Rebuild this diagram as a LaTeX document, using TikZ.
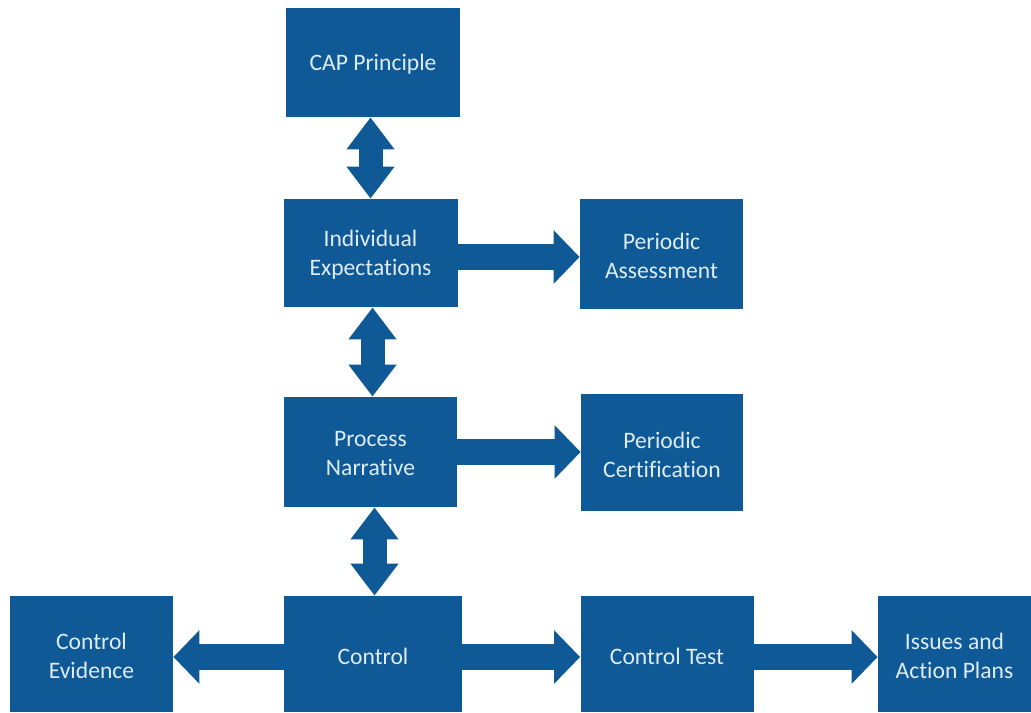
\documentclass[tikz,border=0pt]{standalone}
\usepackage{fontspec}
\setmainfont[Ligatures={NoCommon,NoContextual}]{Carlito}
\usetikzlibrary{arrows.meta}
\definecolor{boxblue}{RGB}{14,89,150}
\definecolor{boxtext}{RGB}{222,236,248}
\begin{document}
\begin{tikzpicture}[x=0.5pt,y=-0.5pt,
  boxtxt/.style={text=boxtext, align=center, inner sep=0pt, yshift=-1pt,
              font=\fontsize{11.8}{14.5}\selectfont},
  box/.style={fill=boxblue, inner sep=0pt, label={[boxtxt]center:{#1}}},
  harrow/.style={draw=boxblue, line width=13pt, -{Triangle[width=26pt,length=13pt]}},
  varrow/.style={draw=boxblue, line width=12pt,
                 {Triangle[width=23pt,length=16pt]}-{Triangle[width=23pt,length=16pt]}}]
\fill[white] (0,0) rectangle (1031,712);
\useasboundingbox (0,0) rectangle (1031,712);
\node[box={CAP Principle}, minimum width=87pt, minimum height=54.5pt] (cap) at (373,62.5) {};
\node[box={Individual\\Expectations}, minimum width=87pt, minimum height=54pt] (ind) at (370.5,253) {};
\node[box={Periodic\\Assessment}, minimum width=81.5pt, minimum height=55pt] (pa) at (661.5,254) {};
\node[box={Process\\Narrative}, minimum width=86.5pt, minimum height=55pt] (pn) at (370.5,452) {};
\node[box={Periodic\\Certification}, minimum width=81pt, minimum height=58.5pt] (pc) at (662,452.5) {};
\node[box={Control}, minimum width=89pt, minimum height=58pt] (ctl) at (373,654) {};
\node[box={Control\\Evidence}, minimum width=81.5pt, minimum height=58pt] (ce) at (91.5,654) {};
\node[box={Control Test}, minimum width=86.5pt, minimum height=58pt] (ct) at (667,654) {};
\node[box={Issues and\\Action Plans}, minimum width=76.5pt, minimum height=58pt] (iss) at (954.5,654) {};
\draw[varrow] (ind.north |- cap.south) -- (ind.north);
\draw[varrow] ([xshift=1pt]ind.south) -- ([xshift=1pt]ind.south |- pn.north);
\draw[varrow] ([xshift=2pt]pn.south) -- ([xshift=2pt]pn.south |- ctl.north);
\draw[harrow] ([yshift=-2pt]ind.east) -- ([yshift=-2pt]ind.east -| pa.west);
\draw[harrow] (pn.east) -- (pn.east -| pc.west);
\draw[harrow] ([yshift=-1.5pt]ctl.west) -- ([yshift=-1.5pt]ctl.west -| ce.east);
\draw[harrow] ([yshift=-1.5pt]ctl.east) -- ([yshift=-1.5pt]ctl.east -| ct.west);
\draw[harrow] ([yshift=-1.5pt]ct.east) -- ([yshift=-1.5pt]ct.east -| iss.west);
\end{tikzpicture}
\end{document}
